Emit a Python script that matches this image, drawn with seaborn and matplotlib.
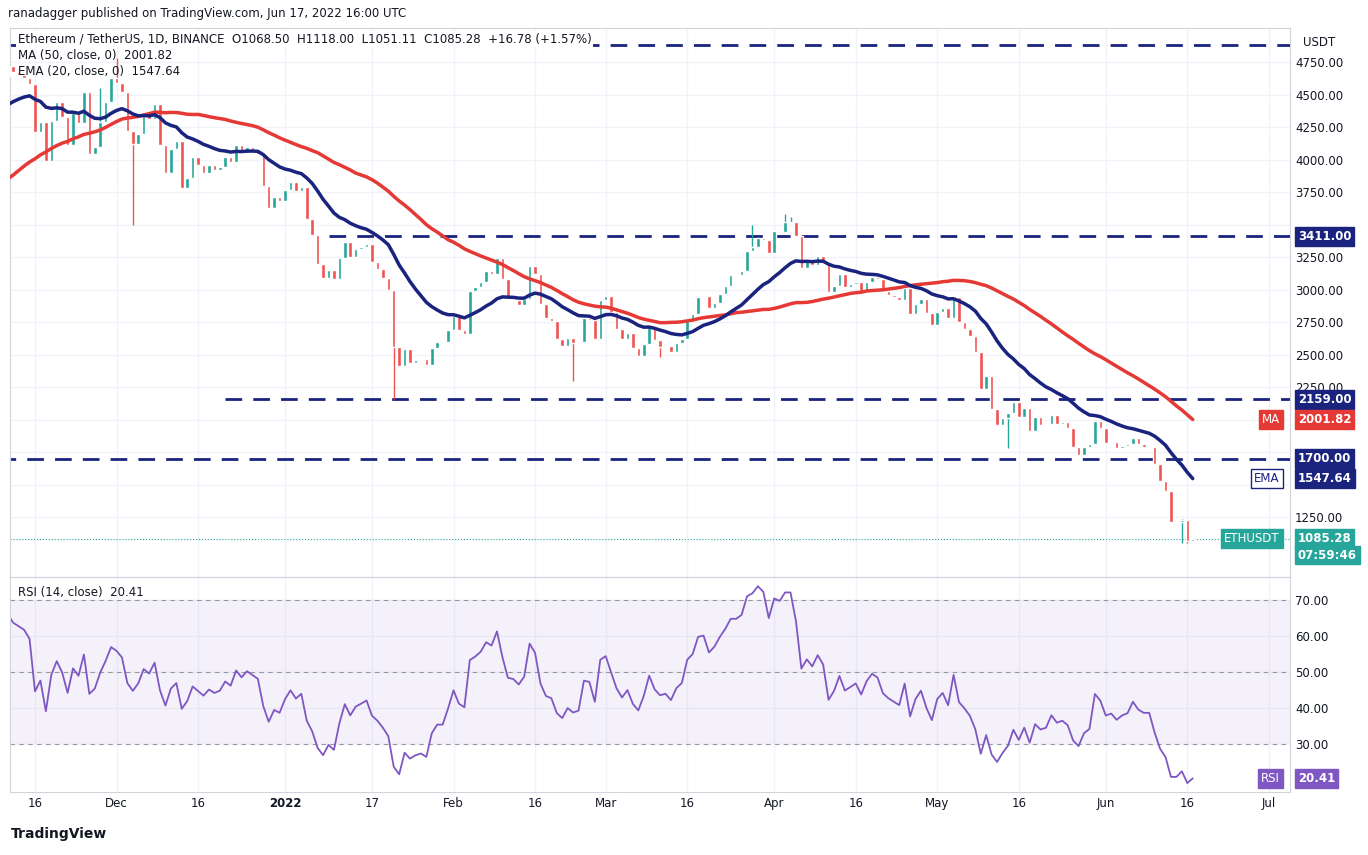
import numpy as np
import pandas as pd
import matplotlib
matplotlib.use("Agg")
from matplotlib import pyplot as plt
import seaborn as sns

# daily closes, Sep 22 2021 .. Nov 10 2021 (warm-up for the 50 MA)
pre_closes = [3080, 3150, 2930, 2920, 3060, 2930, 2810, 2850, 3000, 3310, 3390, 3420, 3380, 3520,
              3580, 3590, 3560, 3580, 3420, 3500, 3480, 3600, 3790, 3870, 3830, 3850, 3750, 3880,
              4160, 4060, 3970, 4170, 4080, 4220, 4130, 3930, 4290, 4420, 4330, 4290, 4330, 4590,
              4600, 4530, 4480, 4520, 4620, 4810, 4730, 4640]

# daily closes, Nov 11 2021 .. Jun 17 2022
closes = [4720, 4670, 4650, 4630, 4580, 4210, 4290, 3990, 4300, 4440, 4330, 4110, 4360, 4280,
          4520, 4040, 4100, 4290, 4440, 4630, 4590, 4520, 4220, 4120, 4200, 4360, 4310, 4430,
          4110, 3900, 4080, 4140, 3780, 3860, 4020, 3960, 3900, 3960, 3920, 3940, 4020, 3980,
          4110, 4050, 4100, 4070, 4040, 3800, 3630, 3710, 3680, 3770, 3830, 3760, 3790, 3540,
          3420, 3200, 3090, 3150, 3080, 3240, 3370, 3250, 3310, 3330, 3350, 3210, 3160, 3090,
          3000, 2560, 2410, 2540, 2440, 2460, 2470, 2420, 2550, 2600, 2600, 2690, 2800, 2690,
          2660, 2990, 3020, 3060, 3140, 3120, 3240, 3080, 2930, 2920, 2880, 2930, 3180, 3120,
          2890, 2780, 2760, 2620, 2570, 2630, 2590, 2600, 2780, 2770, 2620, 2920, 2950, 2830,
          2700, 2620, 2670, 2550, 2490, 2580, 2720, 2610, 2560, 2570, 2520, 2590, 2620, 2770,
          2810, 2940, 2950, 2860, 2900, 2970, 3030, 3110, 3110, 3140, 3300, 3330, 3400, 3380,
          3280, 3450, 3440, 3520, 3520, 3410, 3170, 3230, 3190, 3260, 3210, 2980, 3030, 3120,
          3020, 3040, 3060, 2990, 3060, 3100, 3080, 2990, 2960, 2940, 2920, 3010, 2810, 2890,
          2930, 2820, 2730, 2830, 2860, 2780, 2940, 2750, 2700, 2640, 2520, 2240, 2340, 2080,
          1960, 2010, 2050, 2140, 2020, 2090, 1910, 2020, 1960, 1970, 2040, 1970, 1980, 1940,
          1790, 1730, 1790, 1810, 1990, 1940, 1820, 1830, 1780, 1800, 1810, 1860, 1810, 1790,
          1790, 1660, 1530, 1450, 1210, 1210, 1230, 1068.5, 1085.28]

# notable wicks (day index -> price)
low_wicks = {23: 3500, 71: 2160, 104: 2300, 120: 2480, 184: 1780, 216: 1050, 217: 1051}
high_wicks = {17: 4550, 20: 4780, 137: 3500, 143: 3580, 144: 3560, 213: 1260, 216: 1240, 217: 1118}

levels = [4880, 3411, 2159, 1700]
level_start = [-5, 59, 40, -5]

tick_days = [5, 20, 35, 51, 67, 82, 97, 110, 125, 141, 156, 171, 186, 202, 217, 232]
tick_labels = ["16", "Dec", "16", "2022", "17", "Feb", "16", "Mar", "16", "Apr", "16", "May",
               "16", "Jun", "16", "Jul"]

GREEN, RED, NAVY, MAR = "#26a69a", "#ef5350", "#1a237e", "#e53935"

all_c = pd.Series(pre_closes + closes, dtype=float)
idx = np.arange(len(all_c)) - len(pre_closes)
ma50 = all_c.rolling(50, min_periods=1).mean()
ema20 = all_c.ewm(span=20, adjust=False).mean()
delta = all_c.diff()
up = delta.clip(lower=0).ewm(alpha=1 / 14, adjust=False).mean()
dn = (-delta.clip(upper=0)).ewm(alpha=1 / 14, adjust=False).mean()
rsi = 100 - 100 / (1 + up / dn)

df = pd.DataFrame({"day": idx, "close": all_c, "ma": ma50, "ema": ema20, "rsi": rsi})
df["open"] = df["close"].shift(1)
win = df[df["day"] >= 0].copy()

sns.set_style("white")
fig = plt.figure(figsize=(13.68, 8.55), dpi=100)
ax = fig.add_axes([0.0073, 0.325, 0.9357, 0.642])
ax2 = fig.add_axes([0.0073, 0.074, 0.9357, 0.251], sharex=ax)

for a in (ax, ax2):
    a.grid(True, color="#f0f3fa", lw=1)
    for s in a.spines.values():
        s.set_color("#d1d4dc")

# candles
for _, r in win.iterrows():
    d, o, c = r["day"], r["open"], r["close"]
    col = GREEN if c >= o else RED
    hi = max(high_wicks.get(d, max(o, c)), max(o, c))
    lo = min(low_wicks.get(d, min(o, c)), min(o, c))
    ax.vlines(d, lo, hi, color=col, lw=1, zorder=3)
    ax.bar(d, max(abs(c - o), 3), bottom=min(o, c), width=0.65, color=col, zorder=3)

sns.lineplot(data=win, x="day", y="ma", ax=ax, color=MAR, lw=2.5, zorder=4)
sns.lineplot(data=win, x="day", y="ema", ax=ax, color=NAVY, lw=2.5, zorder=4)

for lv, st in zip(levels, level_start):
    ax.hlines(lv, st, 240, color=NAVY, lw=2, linestyles=(0, (6, 4)), zorder=2)

ax.axhline(closes[-1], color=GREEN, lw=0.8, ls=":")
ax.set_xlim(0.4, 235.9)
ax.set_ylim(790, 5010)
ax.yaxis.tick_right()
yt = np.arange(1250, 4751, 250)
ax.set_yticks(yt)
ax.set_yticklabels(["" if v in (1500, 1750, 2000, 3500) else f"{v:.2f}" for v in yt],
                   fontsize=8.5, color="#131722")
ax.tick_params(axis="both", length=0)
ax.set_xlabel("")
ax.set_ylabel("")
plt.setp(ax.get_xticklabels(), visible=False)

def tag(a, y, txt, fc, ec=None, tc="white", x=1.006):
    a.text(x, y, txt, transform=a.get_yaxis_transform(), fontsize=8.5, color=tc, va="center",
           ha="left", fontweight="bold",
           bbox=dict(boxstyle="square,pad=0.25", fc=fc, ec=ec or fc))

tag(ax, 3411, "3411.00", NAVY)
tag(ax, 2159, "2159.00", NAVY)
tag(ax, 1700, "1700.00", NAVY)
tag(ax, 2001.82, "2001.82", MAR)
tag(ax, 1547.64, "1547.64", NAVY)
tag(ax, 1090, "1085.28", GREEN)
tag(ax, 960, "07:59:46", GREEN)
ax.text(0.992, 2001.82, "MA", transform=ax.get_yaxis_transform(), fontsize=8.5, color="white",
        ha="right", va="center", bbox=dict(boxstyle="square,pad=0.25", fc=MAR, ec=MAR))
ax.text(0.992, 1547.64, "EMA", transform=ax.get_yaxis_transform(), fontsize=8.5, color=NAVY,
        ha="right", va="center", bbox=dict(boxstyle="square,pad=0.25", fc="white", ec=NAVY))
ax.text(0.992, 1085.28, "ETHUSDT", transform=ax.get_yaxis_transform(), fontsize=8.5,
        color="white", ha="right", va="center",
        bbox=dict(boxstyle="square,pad=0.25", fc=GREEN, ec=GREEN))
ax.text(1.01, 0.985, "USDT", transform=ax.transAxes, fontsize=8.5, va="top", color="#131722")

ax.text(0.006, 0.992, "Ethereum / TetherUS, 1D, BINANCE  O1068.50  H1118.00  L1051.11  C1085.28  +16.78 (+1.57%)",
        transform=ax.transAxes, fontsize=8.5, va="top", color="#131722", zorder=6,
        bbox=dict(boxstyle="square,pad=0.1", fc="white", ec="none"))
ax.text(0.006, 0.962, "MA (50, close, 0)  2001.82", transform=ax.transAxes, fontsize=8.5,
        va="top", color="#131722")
ax.text(0.006, 0.933, "EMA (20, close, 0)  1547.64", transform=ax.transAxes, fontsize=8.5,
        va="top", color="#131722")
fig.text(0.006, 0.992, "ranadagger published on TradingView.com, Jun 17, 2022 16:00 UTC",
         fontsize=8.5, va="top", color="#131722")

# RSI panel
ax2.axhspan(30, 70, color="#7e57c2", alpha=0.08, lw=0)
for lv in (70, 50, 30):
    ax2.axhline(lv, color="#9598a1", lw=0.8, ls=(0, (4, 4)))
sns.lineplot(data=win, x="day", y="rsi", ax=ax2, color="#7e57c2", lw=1.3)
ax2.set_ylim(16.7, 76.4)
ax2.yaxis.tick_right()
ax2.set_yticks([30, 40, 50, 60, 70])
ax2.set_yticklabels([f"{v:.2f}" for v in (30, 40, 50, 60, 70)], fontsize=8.5, color="#131722")
ax2.set_xticks(tick_days)
ax2.set_xticklabels(tick_labels, fontsize=8.5, color="#131722")
for t in ax2.get_xticklabels():
    if t.get_text() == "2022":
        t.set_fontweight("bold")
ax2.tick_params(axis="both", length=0)
ax2.set_xlabel("")
ax2.set_ylabel("")
last_rsi = win["rsi"].iloc[-1]
tag(ax2, last_rsi, f"{last_rsi:.2f}", "#7e57c2")
ax2.text(0.992, last_rsi, "RSI", transform=ax2.get_yaxis_transform(), fontsize=8.5,
         color="white", ha="right", va="center",
         bbox=dict(boxstyle="square,pad=0.25", fc="#7e57c2", ec="#7e57c2"))
ax2.text(0.006, 0.96, f"RSI (14, close)  {last_rsi:.2f}", transform=ax2.transAxes,
         fontsize=8.5, va="top", color="#131722")

fig.text(0.008, 0.02, "TradingView", fontsize=10, color="#131722", fontweight="bold")

fig.savefig("out.png", dpi=100)
